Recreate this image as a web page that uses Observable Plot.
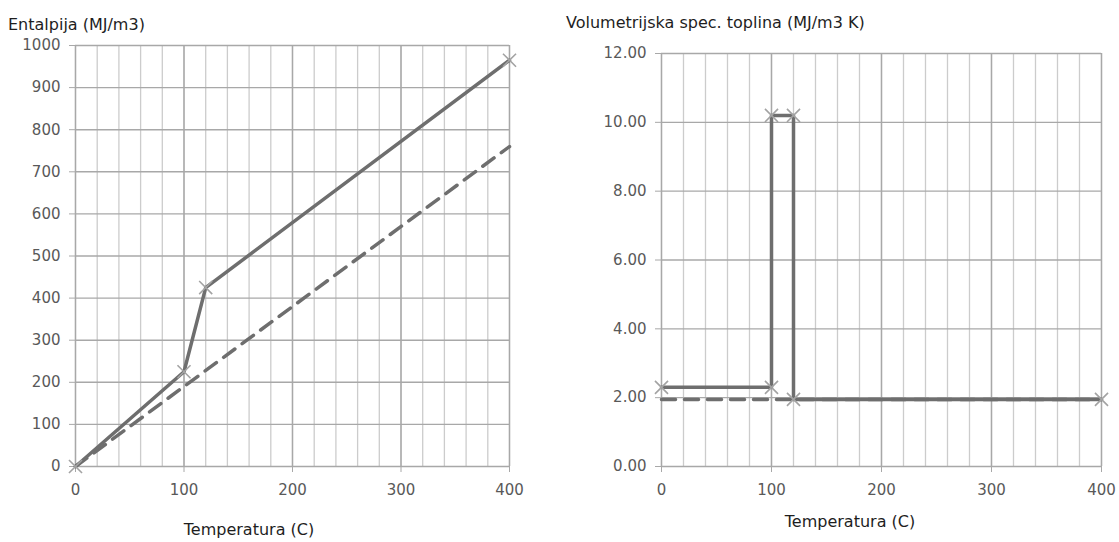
<!DOCTYPE html>
<html>
<head>
<meta charset="utf-8">
<script src="https://cdn.jsdelivr.net/npm/d3@7"></script>
<script src="https://cdn.jsdelivr.net/npm/@observablehq/plot@0.6"></script>
<style>
  html, body { margin: 0; padding: 0; background: #fff; }
  #wrap { position: relative; width: 1119px; height: 542px; overflow: hidden; font-family: "DejaVu Sans", sans-serif; }
  .panel { position: absolute; top: 0; }
  .title { position: absolute; font-size: 16px; line-height: 19px; color: #1e1e1e; white-space: nowrap; }
  .xlab { position: absolute; font-size: 16px; line-height: 19px; color: #1e1e1e; white-space: nowrap; transform: translateX(-50%); }
</style>
</head>
<body>
<div id="wrap">
  <div id="left" class="panel" style="left:0px;"></div>
  <div id="right" class="panel" style="left:560px;"></div>
  <div class="title" style="left:8px; top:15px;">Entalpija (MJ/m3)</div>
  <div class="title" style="left:566px; top:13px;">Volumetrijska spec. toplina (MJ/m3 K)</div>
  <div class="xlab" style="left:249px; top:520px;">Temperatura (C)</div>
  <div class="xlab" style="left:850px; top:512px;">Temperatura (C)</div>
</div>
<script>
// ---- data ----
const xTicks = [0, 100, 200, 300, 400];
const xMinorGrid = [0, 20, 40, 60, 80, 100, 120, 140, 160, 180, 200, 220, 240, 260, 280, 300, 320, 340, 360, 380, 400];
const yTicksLeft = [0, 100, 200, 300, 400, 500, 600, 700, 800, 900, 1000];
const yTicksRight = [0, 2, 4, 6, 8, 10, 12];

// Enthalpy (left)
const enthT = [0, 100, 120, 400];
const enthH = [0, 225, 425, 965];
const enthDashT = [0, 400];
const enthDashH = [0, 760];

// Volumetric specific heat (right)
const capT = [0, 100, 100, 120, 120, 400];
const capC = [2.3, 2.3, 10.2, 10.2, 1.95, 1.95];
const capDashT = [0, 400];
const capDashC = [1.95, 1.95];

const lineColor = "#6e6e6e";
const markColor = "#a3a3a3";
const fontStyle = {fontFamily: "'DejaVu Sans', sans-serif", fontSize: "15px", color: "#595959", background: "transparent"};

function panel({T, V, dT, dV, yDomain, yTicks, fmt, width, mt, ml, mr}) {
  const pts = T.map((t, i) => ({t, v: V[i]}));
  const dpts = dT.map((t, i) => ({t, v: dV[i]}));
  return Plot.plot({
    width, height: 542,
    marginTop: mt, marginBottom: 76, marginLeft: ml, marginRight: mr,
    style: fontStyle,
    x: {domain: [0, 400]},
    y: {domain: yDomain},
    marks: [
      Plot.ruleX(xMinorGrid, {stroke: "#cccccc", strokeWidth: 1.3}),
      Plot.ruleX(xTicks, {stroke: "#a8a8a8", strokeWidth: 1.4}),
      Plot.ruleY(yTicks, {stroke: "#a8a8a8", strokeWidth: 1.4}),
      Plot.axisX({ticks: xTicks, tickSize: 6, tickPadding: 12, stroke: "#a8a8a8", label: null}),
      Plot.axisY({ticks: yTicks, tickSize: 6, tickPadding: 9, stroke: "#a8a8a8", label: null, tickFormat: fmt}),
      Plot.line(dpts, {x: "t", y: "v", stroke: lineColor, strokeWidth: 3.5, strokeDasharray: "14,9"}),
      Plot.line(pts, {x: "t", y: "v", stroke: lineColor, strokeWidth: 3.5}),
      Plot.dot(pts, {x: "t", y: "v", symbol: "times", r: 6, stroke: markColor, strokeWidth: 1.6})
    ]
  });
}

document.getElementById("left").append(panel({
  T: enthT, V: enthH, dT: enthDashT, dV: enthDashH,
  yDomain: [0, 1000], yTicks: yTicksLeft, fmt: d => String(d),
  width: 560, mt: 45, ml: 75, mr: 51
}));

document.getElementById("right").append(panel({
  T: capT, V: capC, dT: capDashT, dV: capDashC,
  yDomain: [0, 12], yTicks: yTicksRight, fmt: d => d.toFixed(2),
  width: 559, mt: 53, ml: 101, mr: 18
}));
</script>
</body>
</html>
